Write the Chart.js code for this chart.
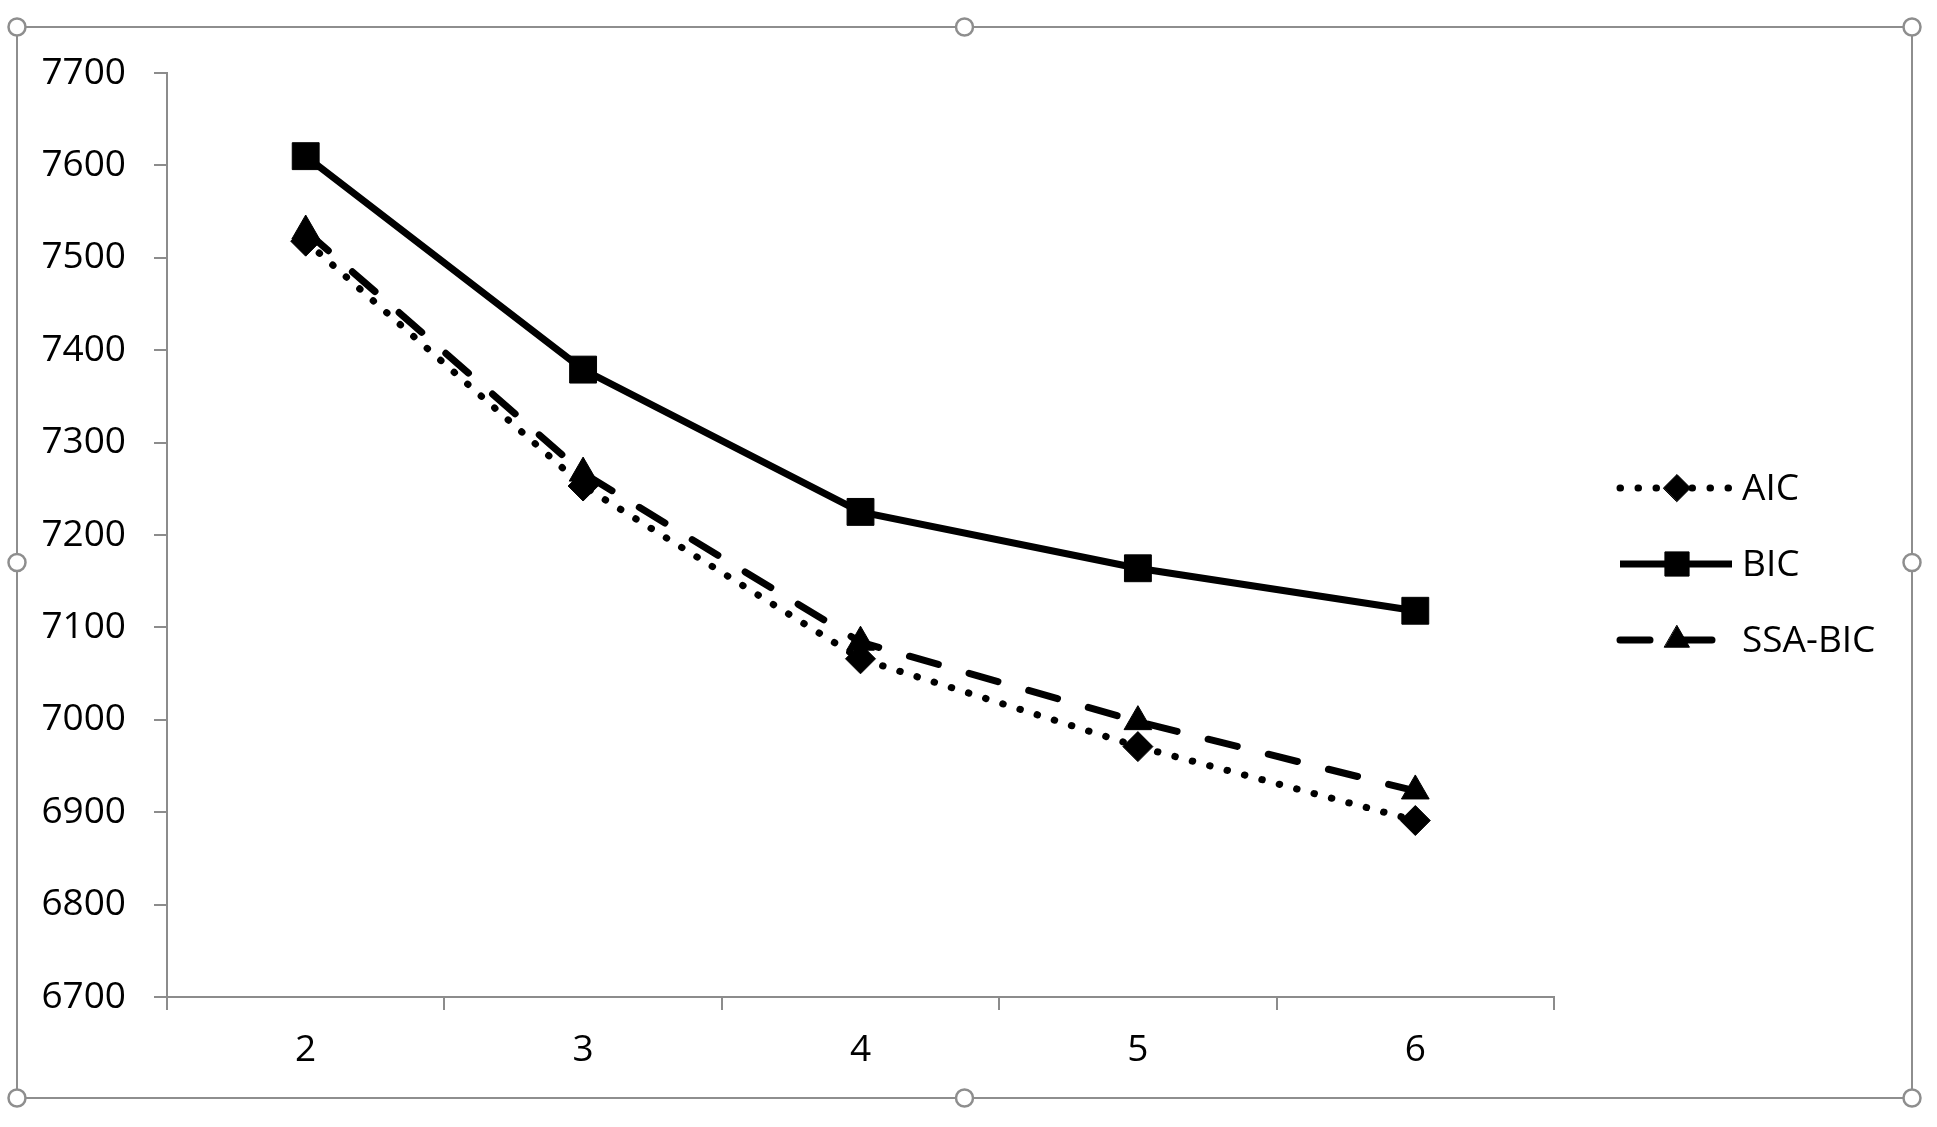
<!DOCTYPE html>
<html><head><meta charset="utf-8">
<script src="https://cdn.jsdelivr.net/npm/chart.js@4/dist/chart.umd.min.js"></script>
<style>html,body{margin:0;padding:0;background:#fff;overflow:hidden}#wrap{width:1937px;height:1127px}</style>
</head><body><div id="wrap"><canvas id="c" width="1937" height="1127"></canvas></div>
<script>
// ---- data ----
const categories = ['2', '3', '4', '5', '6'];
const aicValues = [7518, 7253, 7066, 6971, 6891];
const bicValues = [7610, 7379, 7225, 7164, 7118];
const ssaBicValues = [7529, 7267, 7084, 6998, 6923];
const seriesNames = ['AIC', 'BIC', 'SSA-BIC'];
const yMin = 6700, yMax = 7700, yStep = 100;

// ---- styles ----
const FONT = '"Open Sans", "Noto Sans", sans-serif';
const AXIS_GRAY = '#8c8c8c';
const INK = '#000000';

const datasets = [
  { label: seriesNames[0], data: aicValues, borderColor: INK, backgroundColor: INK,
    borderWidth: 7, borderDash: [0.5, 17.5], borderCapStyle: 'round',
    pointStyle: 'rectRot', pointRadius: 15, pointBorderWidth: 1, pointHoverRadius: 15, order: 1 },
  { label: seriesNames[1], data: bicValues, borderColor: INK, backgroundColor: INK,
    borderWidth: 7, borderDash: [], borderCapStyle: 'butt',
    pointStyle: 'rect', pointRadius: 19, pointBorderWidth: 1, pointHoverRadius: 19, order: 2 },
  { label: seriesNames[2], data: ssaBicValues, borderColor: INK, backgroundColor: INK,
    borderWidth: 7, borderDash: [30, 32], borderCapStyle: 'round',
    pointStyle: 'triangle', pointRadius: 16, pointBorderWidth: 1, pointHoverRadius: 16, order: 0 }
];

// frame with selection handles (Excel chart object look)
const framePlugin = {
  id: 'frame',
  beforeDraw(chart) {
    const ctx = chart.ctx;
    const L = 17, T = 27, R = chart.width - 25, B = chart.height - 29;
    ctx.save();
    ctx.fillStyle = '#fff';
    ctx.fillRect(0, 0, chart.width, chart.height);
    ctx.strokeStyle = '#8e8e8e';
    ctx.lineWidth = 2;
    ctx.strokeRect(L, T, R - L, B - T);
    const mx = (L + R) / 2, my = (T + B) / 2;
    const pts = [[L, T], [mx, T], [R, T], [L, my], [R, my], [L, B], [mx, B], [R, B]];
    pts.forEach(([x, y]) => {
      ctx.beginPath();
      ctx.arc(x, y, 8.5, 0, Math.PI * 2);
      ctx.fillStyle = '#fff';
      ctx.fill();
      ctx.lineWidth = 2.5;
      ctx.strokeStyle = '#8e8e8e';
      ctx.stroke();
    });
    ctx.restore();
  }
};

// legend drawn with line + marker like Excel
const legendPlugin = {
  id: 'excelLegend',
  afterDraw(chart) {
    const ctx = chart.ctx;
    const x0 = chart.chartArea.right + 66, x1 = x0 + 112;
    const xm = x0 + 57;
    const yStart = 488, gap = 76;
    ctx.save();
    chart.data.datasets.forEach((ds, i) => {
      const y = yStart + i * gap;
      ctx.strokeStyle = ds.borderColor;
      ctx.lineWidth = ds.borderWidth;
      ctx.lineCap = ds.borderCapStyle;
      ctx.setLineDash(ds.borderDash || []);
      ctx.beginPath();
      ctx.moveTo(x0, y);
      ctx.lineTo(x1, y);
      ctx.stroke();
      ctx.setLineDash([]);
      ctx.fillStyle = ds.backgroundColor;
      ctx.strokeStyle = ds.borderColor;
      ctx.lineWidth = 1;
      Chart.helpers.drawPoint(ctx, { pointStyle: ds.pointStyle, radius: ds.pointRadius * 0.9, rotation: 0, borderWidth: 1 }, xm, y);
      ctx.fillStyle = INK;
      ctx.font = '37px ' + FONT;
      ctx.textBaseline = 'middle';
      ctx.textAlign = 'left';
      ctx.fillText(ds.label, x1 + 10, y + 1);
    });
    ctx.restore();
  }
};

new Chart(document.getElementById('c'), {
  type: 'line',
  data: { labels: categories, datasets },
  options: {
    responsive: false,
    animation: false,
    devicePixelRatio: 1,
    layout: { padding: { left: 0, top: 73, right: 383, bottom: 0 } },
    plugins: { legend: { display: false }, tooltip: { enabled: false } },
    elements: { line: { tension: 0 } },
    scales: {
      x: {
        type: 'category',
        offset: true,
        grid: { offset: true, drawOnChartArea: false, drawTicks: true, tickLength: 13, color: AXIS_GRAY, lineWidth: 2 },
        border: { display: true, color: AXIS_GRAY, width: 2 },
        ticks: { color: INK, font: { family: FONT, size: 37 }, padding: 18, maxRotation: 0 },
        afterFit(scale) { scale.height = 130; }
      },
      y: {
        min: yMin, max: yMax,
        grid: { drawOnChartArea: false, drawTicks: true, tickLength: 13, color: AXIS_GRAY, lineWidth: 2 },
        border: { display: true, color: AXIS_GRAY, width: 2 },
        ticks: { stepSize: yStep, color: INK, font: { family: FONT, size: 37 }, padding: 28,
                 callback: (v) => String(v) },
        afterFit(scale) { scale.width = 167; }
      }
    }
  },
  plugins: [framePlugin, legendPlugin]
});
</script>
</body></html>
